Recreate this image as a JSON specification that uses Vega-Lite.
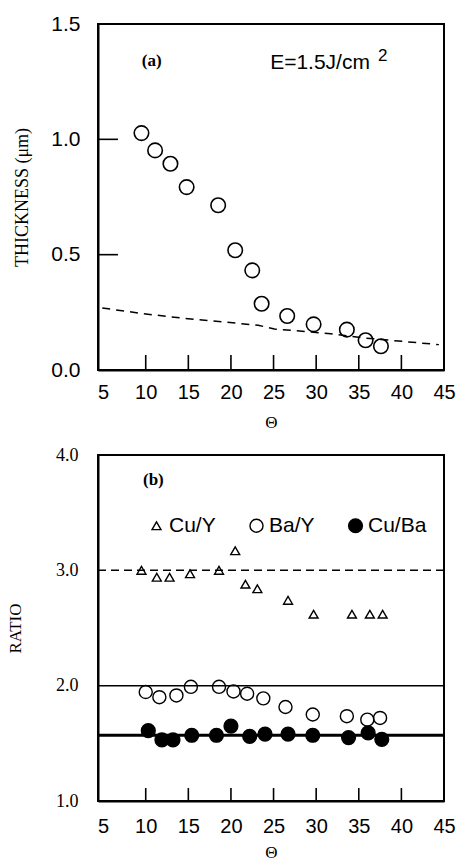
{
  "$schema": "https://vega.github.io/schema/vega-lite/v6.json",
  "padding": {"left": 5, "top": 12, "right": 0, "bottom": 0},
  "background": "white",
  "spacing": 14,
  "config": {
    "view": {"stroke": "black", "strokeWidth": 2},
    "axis": {"domain": true, "domainColor": "black", "domainWidth": 2, "grid": false, "ticks": false, "labelColor": "black", "titleColor": "black", "labelFlush": false, "labelOverlap": false, "titleFontWeight": "normal"}
  },
  "vconcat": [
    {
      "width": 346,
      "height": 346,
      "view": {"stroke": "black", "strokeWidth": 2},
      "resolve": {"axis": {"x": "independent", "y": "independent"}},
      "layer": [
        {
          "data": {"values": [
            {"theta": 4.9, "thickness": 0.269},
            {"theta": 9.7, "thickness": 0.244},
            {"theta": 14.3, "thickness": 0.225},
            {"theta": 23.2, "thickness": 0.194},
            {"theta": 25.1, "thickness": 0.178},
            {"theta": 31.7, "thickness": 0.157},
            {"theta": 35.6, "thickness": 0.139},
            {"theta": 44.4, "thickness": 0.110}
          ]},
          "mark": {"type": "line", "color": "black", "strokeWidth": 1.5, "strokeDash": [8, 6]},
          "encoding": {
            "x": {"field": "theta", "type": "quantitative", "scale": {"domain": [4.4, 45.0], "nice": false, "zero": false},
              "axis": {"orient": "bottom", "values": [5, 10, 15, 20, 25, 30, 35, 40, 45], "title": "Θ", "labelPadding": 12,
                "labelFont": "Liberation Sans", "labelFontSize": 20, "titleFont": "Liberation Serif", "titleFontSize": 17, "titlePadding": 12}},
            "y": {"field": "thickness", "type": "quantitative", "scale": {"domain": [0, 1.5], "nice": false},
              "axis": {"orient": "left", "values": [0, 0.5, 1, 1.5], "format": ".1f", "title": "THICKNESS (μm)", "labelPadding": 18,
                "labelFont": "Liberation Sans", "labelFontSize": 21, "titleFont": "Liberation Serif", "titleFontSize": 18, "titlePadding": 19}}
          }
        },
        {
          "data": {"values": [
            {"tickAt": 10}, {"tickAt": 15}, {"tickAt": 20}, {"tickAt": 25}, {"tickAt": 30}, {"tickAt": 35}, {"tickAt": 40}
          ]},
          "mark": {"type": "point", "shape": "stroke", "angle": 90, "size": 225, "stroke": "black", "strokeWidth": 1.6, "filled": false, "opacity": 1},
          "encoding": {
            "x": {"field": "tickAt", "type": "quantitative", "axis": null},
            "y": {"datum": 0.0325, "type": "quantitative", "axis": null}
          }
        },
        {
          "data": {"values": [
            {"level": 0.5}, {"level": 1.0}
          ]},
          "mark": {"type": "point", "shape": "stroke", "size": 400, "stroke": "black", "strokeWidth": 1.6, "filled": false, "opacity": 1},
          "encoding": {
            "y": {"field": "level", "type": "quantitative", "axis": null},
            "x": {"datum": 5.57, "type": "quantitative", "axis": null}
          }
        },
        {
          "data": {"values": [
            {"theta": 9.5, "thickness": 1.027},
            {"theta": 11.1, "thickness": 0.952},
            {"theta": 12.9, "thickness": 0.894},
            {"theta": 14.8, "thickness": 0.793},
            {"theta": 18.5, "thickness": 0.714},
            {"theta": 20.5, "thickness": 0.519},
            {"theta": 22.5, "thickness": 0.432},
            {"theta": 23.6, "thickness": 0.287},
            {"theta": 26.6, "thickness": 0.234},
            {"theta": 29.7, "thickness": 0.198},
            {"theta": 33.6, "thickness": 0.175},
            {"theta": 35.8, "thickness": 0.129},
            {"theta": 37.6, "thickness": 0.103}
          ]},
          "mark": {"type": "point", "shape": "circle", "size": 210, "stroke": "black", "strokeWidth": 1.6, "fill": "transparent", "opacity": 1},
          "encoding": {
            "x": {"field": "theta", "type": "quantitative", "axis": null},
            "y": {"field": "thickness", "type": "quantitative", "axis": null}
          }
        },
        {
          "data": {"values": [{"label": "(a)"}]},
          "mark": {"type": "text", "font": "Liberation Serif", "fontWeight": "bold", "fontSize": 17, "align": "center", "baseline": "middle", "color": "black"},
          "encoding": {"text": {"field": "label"}, "x": {"datum": 10.7, "axis": null}, "y": {"datum": 1.34, "axis": null}}
        },
        {
          "data": {"values": [{"label": "E=1.5J/cm"}]},
          "mark": {"type": "text", "font": "Liberation Sans", "fontSize": 21, "align": "left", "baseline": "middle", "color": "black"},
          "encoding": {"text": {"field": "label"}, "x": {"datum": 24.6, "axis": null}, "y": {"datum": 1.33, "axis": null}}
        },
        {
          "data": {"values": [{"label": "2"}]},
          "mark": {"type": "text", "font": "Liberation Sans", "fontSize": 17, "align": "center", "baseline": "middle", "color": "black"},
          "encoding": {"text": {"field": "label"}, "x": {"datum": 37.8, "axis": null}, "y": {"datum": 1.36, "axis": null}}
        }
      ]
    },
    {
      "width": 346,
      "height": 346,
      "view": {"stroke": "black", "strokeWidth": 2},
      "resolve": {"axis": {"x": "independent", "y": "independent"}},
      "layer": [
        {
          "data": {"values": [{"ratio": 3.0}]},
          "mark": {"type": "rule", "color": "black", "strokeWidth": 1.5, "strokeDash": [8, 5]},
          "encoding": {"y": {"field": "ratio", "type": "quantitative", "axis": null}}
        },
        {
          "data": {"values": [{"ratio": 2.0}]},
          "mark": {"type": "rule", "color": "black", "strokeWidth": 1.5},
          "encoding": {"y": {"field": "ratio", "type": "quantitative", "axis": null}}
        },
        {
          "data": {"values": [{"ratio": 1.57}]},
          "mark": {"type": "rule", "color": "black", "strokeWidth": 3},
          "encoding": {"y": {"field": "ratio", "type": "quantitative", "axis": null}}
        },
        {
          "data": {"values": [
            {"tickAt": 10}, {"tickAt": 15}, {"tickAt": 20}, {"tickAt": 25}, {"tickAt": 30}, {"tickAt": 35}, {"tickAt": 40}
          ]},
          "mark": {"type": "point", "shape": "stroke", "angle": 90, "size": 169, "stroke": "black", "strokeWidth": 1.6, "filled": false, "opacity": 1},
          "encoding": {
            "x": {"field": "tickAt", "type": "quantitative", "axis": null},
            "y": {"datum": 1.056, "type": "quantitative", "axis": null}
          }
        },
        {
          "data": {"values": [
            {"theta": 9.5, "ratio": 3.00, "series": "Cu/Y"},
            {"theta": 11.3, "ratio": 2.94, "series": "Cu/Y"},
            {"theta": 12.8, "ratio": 2.94, "series": "Cu/Y"},
            {"theta": 15.2, "ratio": 2.97, "series": "Cu/Y"},
            {"theta": 18.6, "ratio": 3.00, "series": "Cu/Y"},
            {"theta": 20.5, "ratio": 3.17, "series": "Cu/Y"},
            {"theta": 21.7, "ratio": 2.88, "series": "Cu/Y"},
            {"theta": 23.1, "ratio": 2.84, "series": "Cu/Y"},
            {"theta": 26.7, "ratio": 2.74, "series": "Cu/Y"},
            {"theta": 29.7, "ratio": 2.62, "series": "Cu/Y"},
            {"theta": 34.2, "ratio": 2.62, "series": "Cu/Y"},
            {"theta": 36.3, "ratio": 2.62, "series": "Cu/Y"},
            {"theta": 37.8, "ratio": 2.62, "series": "Cu/Y"},
            {"theta": 10.0, "ratio": 1.945, "series": "Ba/Y"},
            {"theta": 11.6, "ratio": 1.90, "series": "Ba/Y"},
            {"theta": 13.6, "ratio": 1.915, "series": "Ba/Y"},
            {"theta": 15.3, "ratio": 1.99, "series": "Ba/Y"},
            {"theta": 18.6, "ratio": 1.99, "series": "Ba/Y"},
            {"theta": 20.3, "ratio": 1.95, "series": "Ba/Y"},
            {"theta": 21.9, "ratio": 1.93, "series": "Ba/Y"},
            {"theta": 23.8, "ratio": 1.89, "series": "Ba/Y"},
            {"theta": 26.4, "ratio": 1.815, "series": "Ba/Y"},
            {"theta": 29.6, "ratio": 1.75, "series": "Ba/Y"},
            {"theta": 33.6, "ratio": 1.735, "series": "Ba/Y"},
            {"theta": 36.0, "ratio": 1.705, "series": "Ba/Y"},
            {"theta": 37.5, "ratio": 1.72, "series": "Ba/Y"},
            {"theta": 10.3, "ratio": 1.61, "series": "Cu/Ba"},
            {"theta": 11.9, "ratio": 1.53, "series": "Cu/Ba"},
            {"theta": 13.2, "ratio": 1.53, "series": "Cu/Ba"},
            {"theta": 15.4, "ratio": 1.57, "series": "Cu/Ba"},
            {"theta": 18.3, "ratio": 1.57, "series": "Cu/Ba"},
            {"theta": 20.0, "ratio": 1.65, "series": "Cu/Ba"},
            {"theta": 22.2, "ratio": 1.56, "series": "Cu/Ba"},
            {"theta": 24.0, "ratio": 1.58, "series": "Cu/Ba"},
            {"theta": 26.7, "ratio": 1.58, "series": "Cu/Ba"},
            {"theta": 29.6, "ratio": 1.57, "series": "Cu/Ba"},
            {"theta": 33.8, "ratio": 1.55, "series": "Cu/Ba"},
            {"theta": 36.1, "ratio": 1.59, "series": "Cu/Ba"},
            {"theta": 37.7, "ratio": 1.535, "series": "Cu/Ba"}
          ]},
          "mark": {"type": "point", "stroke": "black", "strokeWidth": 1.4, "opacity": 1},
          "encoding": {
            "x": {"field": "theta", "type": "quantitative", "scale": {"domain": [4.4, 45.0], "nice": false, "zero": false},
              "axis": {"orient": "bottom", "values": [5, 10, 15, 20, 25, 30, 35, 40, 45], "title": "Θ", "labelPadding": 15,
                "labelFont": "Liberation Sans", "labelFontSize": 20, "titleFont": "Liberation Serif", "titleFontSize": 17, "titlePadding": 8}},
            "y": {"field": "ratio", "type": "quantitative", "scale": {"domain": [1, 4], "nice": false, "zero": false},
              "axis": {"orient": "left", "values": [1, 2, 3, 4], "format": ".1f", "title": "RATIO", "labelPadding": 20,
                "labelFont": "Liberation Serif", "labelFontSize": 18, "titleFont": "Liberation Serif", "titleFontSize": 17, "titlePadding": 31}},
            "shape": {"field": "series", "type": "nominal", "scale": {"domain": ["Cu/Y", "Ba/Y", "Cu/Ba"], "range": ["triangle-up", "circle", "circle"]},
              "legend": {"title": null, "orient": "none", "direction": "horizontal", "legendX": 48, "legendY": 491, "labelOffset": 2, "columnPadding": 30,
                "labelFont": "Liberation Sans", "labelFontSize": 21, "labelColor": "black",
                "symbolStrokeColor": "black", "symbolStrokeWidth": 1.4,
                "encode": {"symbols": {"update": {"stroke": {"value": "black"}, "strokeWidth": {"value": 1.4}}}}}},
            "fill": {"field": "series", "type": "nominal", "scale": {"domain": ["Cu/Y", "Ba/Y", "Cu/Ba"], "range": ["transparent", "transparent", "black"]}},
            "size": {"field": "series", "type": "nominal", "scale": {"type": "ordinal", "domain": ["Cu/Y", "Ba/Y", "Cu/Ba"], "range": [80, 170, 190]}}
          }
        },
        {
          "data": {"values": [{"label": "(b)"}]},
          "mark": {"type": "text", "font": "Liberation Serif", "fontWeight": "bold", "fontSize": 17, "align": "center", "baseline": "middle", "color": "black"},
          "encoding": {"text": {"field": "label"}, "x": {"datum": 10.9, "axis": null}, "y": {"datum": 3.78, "axis": null}}
        }
      ]
    }
  ]
}
